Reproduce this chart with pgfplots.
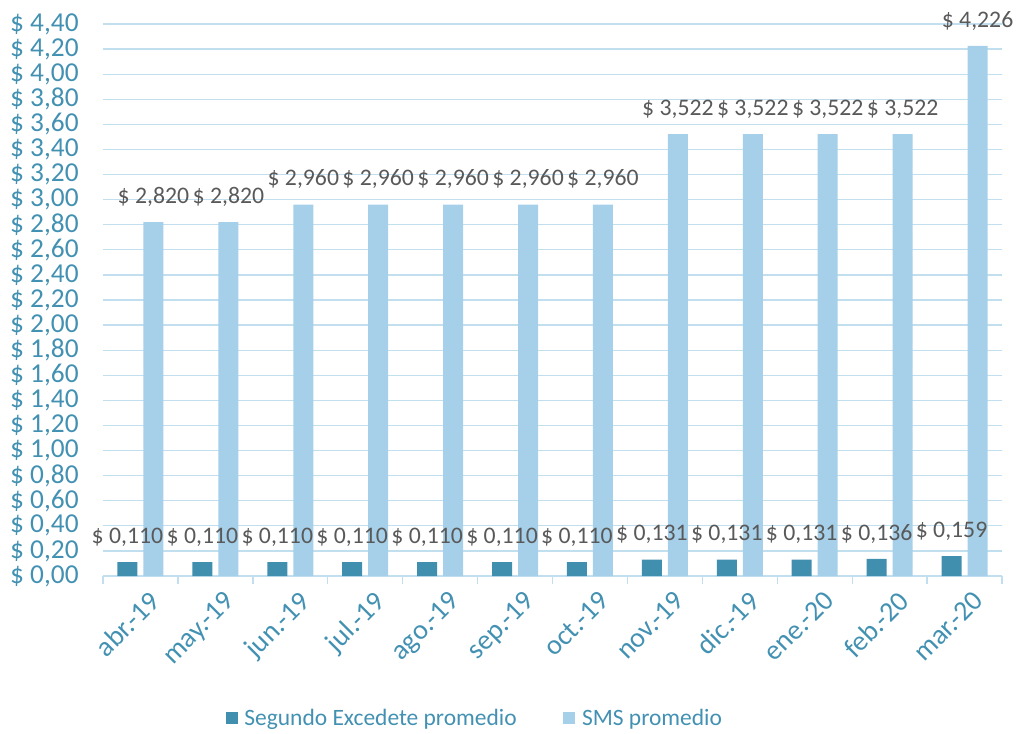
\documentclass[border=0pt]{standalone}
\usepackage{pgfplots}
\pgfplotsset{compat=1.18}
\usepackage{fontspec}
\setmainfont{Carlito}
\definecolor{darkbar}{HTML}{418FAF}
\definecolor{lightbar}{HTML}{A6D0E9}
\definecolor{axtext}{HTML}{4391B2}
\definecolor{gridc}{HTML}{C2DFEF}
\definecolor{lbl}{HTML}{595959}
\begin{document}
\begin{tikzpicture}
\path[use as bounding box] (-77.25pt,-117.75pt) rectangle (685.5pt,432pt);
\begin{axis}[
  at={(0,0)}, anchor=south west,
  scale only axis, width=674.25pt, height=414pt,
  ybar=4.5pt, bar width=15pt,
  xmin=-0.5, xmax=11.5, ymin=0, ymax=4.4,
  /pgf/number format/assume math mode=true,
  axis x line*=bottom, axis y line*=left,
  y axis line style={draw=none},
  x axis line style={draw=gridc, line width=1pt},
  xtick={0,...,11},
  xticklabels={abr.-19,may.-19,jun.-19,jul.-19,ago.-19,sep.-19,oct.-19,nov.-19,dic.-19,ene.-20,feb.-20,mar.-20},
  minor xtick={-0.5,0.5,...,11.5},
  major x tick style={draw=none},
  minor x tick style={draw=gridc, line width=1pt},
  minor tick length=6pt,
  tick align=outside,
  ytick={0,0.2,0.4,0.6,0.8,1.0,1.2,1.4,1.6,1.8,2.0,2.2,2.4,2.6,2.8,3.0,3.2,3.4,3.6,3.8,4.0,4.2,4.4},
  ytick style={draw=none},
  yticklabel={\$~\pgfmathprintnumber[fixed,fixed zerofill,precision=2,use comma]{\tick}},
  yticklabel style={font=\fontsize{20.5}{23}\selectfont, text=axtext, xshift=-10.5pt},
  xticklabel style={font=\fontsize{21}{24}\selectfont, text=axtext, rotate=45, anchor=north east, inner sep=2pt, yshift=-6pt, xshift=2pt},
  ymajorgrids, major grid style={draw=gridc, line width=1pt},
  nodes near coords={\$~\pgfmathprintnumber[fixed,fixed zerofill,precision=3,use comma]{\pgfplotspointmeta}},
  nodes near coords style={font=\fontsize{17.8}{20}\selectfont, text=lbl, anchor=base, yshift=14pt},
  legend columns=2,
  legend style={draw=none, fill=none, at={(0.414,-0.257)}, anchor=center,
    font=\fontsize{17.6}{20}\selectfont, text=axtext,
    /tikz/every odd column/.append style={column sep=3pt},
    /tikz/every even column/.append style={column sep=33pt}},
  legend image code/.code={\fill[#1,draw=none] (0pt,-4.5pt) rectangle (9pt,4.5pt);},
]
\addplot[fill=darkbar, draw=none] coordinates {(0,0.110) (1,0.110) (2,0.110) (3,0.110) (4,0.110) (5,0.110) (6,0.110) (7,0.131) (8,0.131) (9,0.131) (10,0.136) (11,0.159)};
\addplot[fill=lightbar, draw=none] coordinates {(0,2.820) (1,2.820) (2,2.960) (3,2.960) (4,2.960) (5,2.960) (6,2.960) (7,3.522) (8,3.522) (9,3.522) (10,3.522) (11,4.226)};
\legend{Segundo Excedete promedio, SMS promedio}
\end{axis}
\end{tikzpicture}
\end{document}
